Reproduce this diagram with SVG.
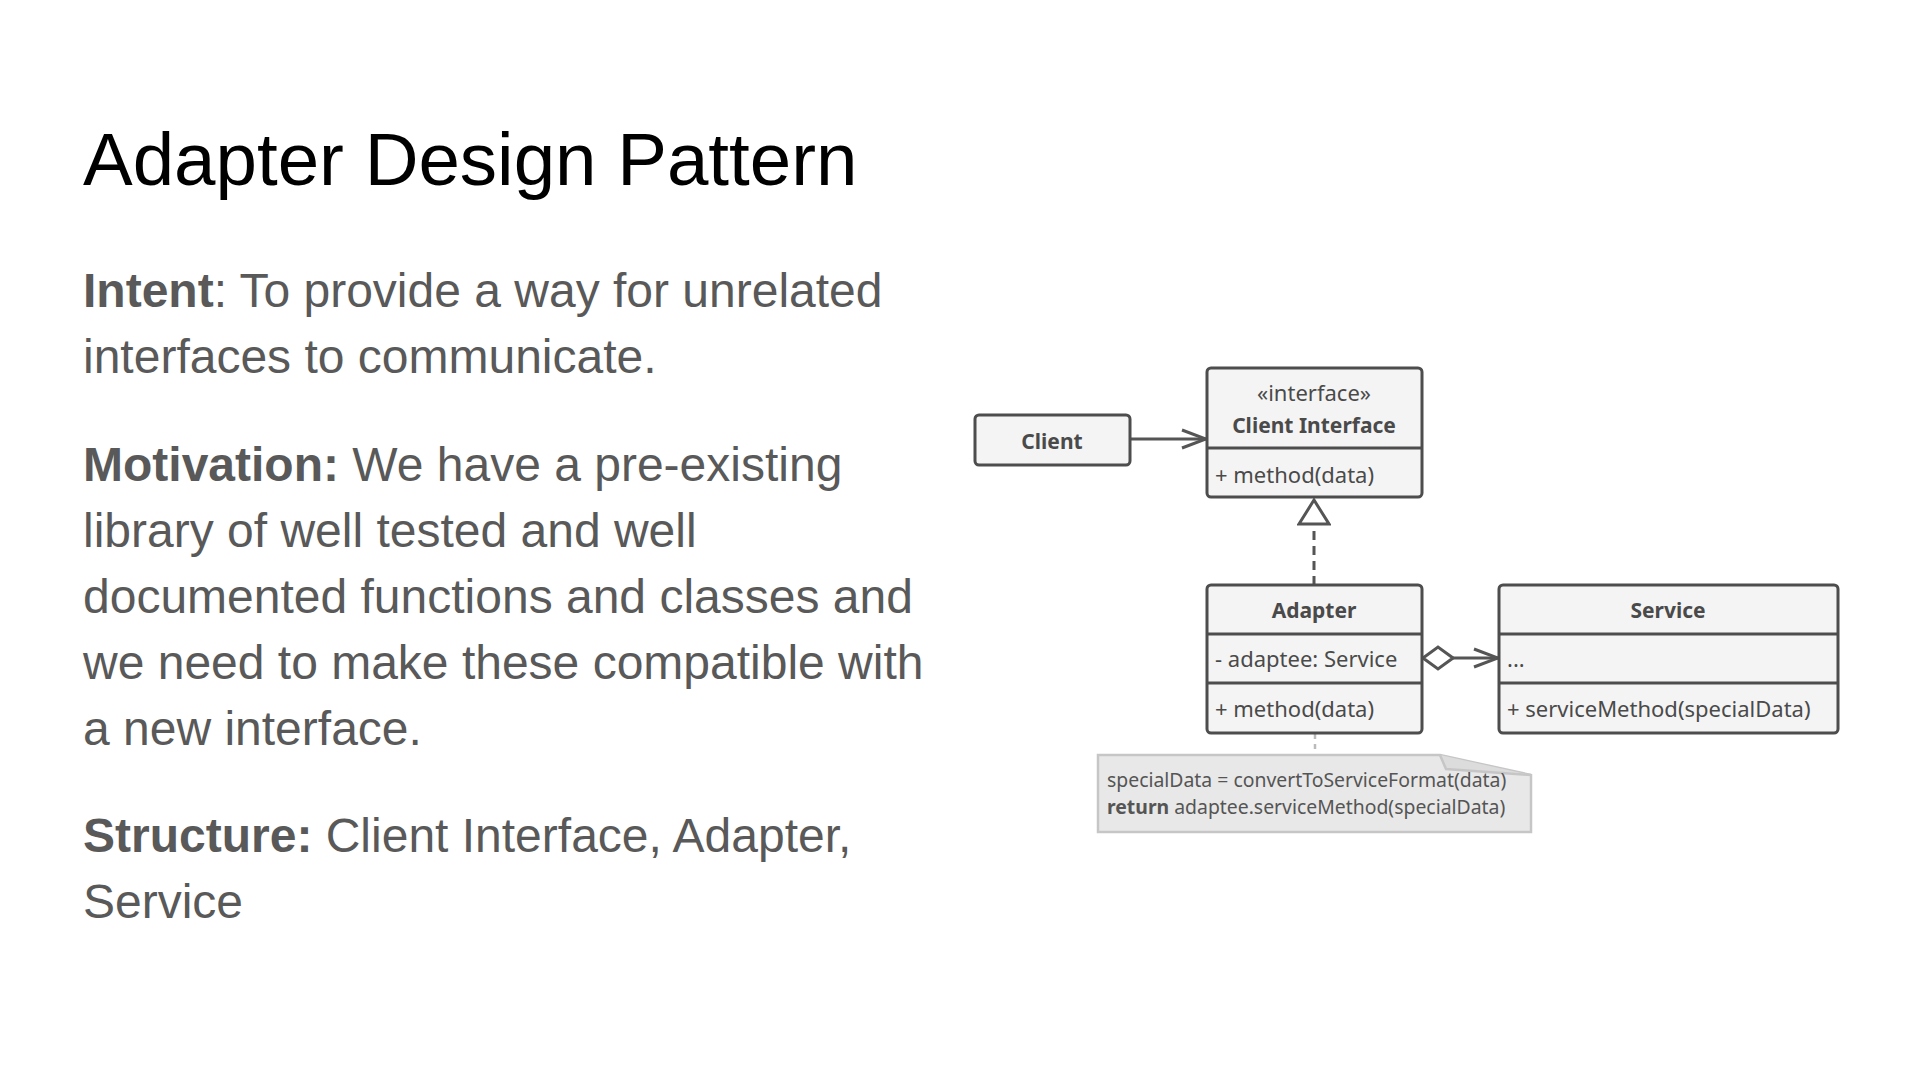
<svg xmlns="http://www.w3.org/2000/svg" width="1920" height="1080" viewBox="0 0 1920 1080">
  <style>
    .title { font-family: "Liberation Sans", Arial, sans-serif; font-size: 74.5px; fill: #000000; }
    .body { font-family: "Liberation Sans", Arial, sans-serif; font-size: 48px; fill: #595959; }
    .b { font-weight: bold; }
    .box { fill: #f4f4f4; stroke: #4d4d4d; stroke-width: 3; }
    .div { stroke: #4d4d4d; stroke-width: 3; }
    .uml { font-family: "Noto Sans", "Open Sans", sans-serif; font-size: 22px; fill: #4a4a4a; }
    .name { font-weight: bold; font-size: 21px; text-anchor: middle; }
    .mid { text-anchor: middle; }
    .line { stroke: #555555; stroke-width: 3; fill: none; }
    .note { fill: #e8e8e8; stroke: #c6c6c6; stroke-width: 2.5; }
    .notetext { font-family: "Noto Sans", "Open Sans", sans-serif; font-size: 19.4px; fill: #555555; }
  </style>
  <defs>
    <marker id="open" viewBox="0 0 28 22" refX="26" refY="11" markerWidth="28" markerHeight="22" markerUnits="userSpaceOnUse" orient="auto">
      <path d="M2,2 L26,11 L2,20" fill="none" stroke="#555555" stroke-width="3"/>
    </marker>
    <marker id="realize" viewBox="0 0 28 34" refX="26" refY="17" markerWidth="28" markerHeight="34" markerUnits="userSpaceOnUse" orient="auto">
      <path d="M2,2 L26,17 L2,32 Z" fill="#ffffff" stroke="#555555" stroke-width="3"/>
    </marker>
    <marker id="diamond" viewBox="0 0 34 26" refX="2" refY="13" markerWidth="34" markerHeight="26" markerUnits="userSpaceOnUse" orient="auto">
      <path d="M2,13 L17,2 L32,13 L17,24 Z" fill="#ffffff" stroke="#555555" stroke-width="3"/>
    </marker>
  </defs>

  <rect width="1920" height="1080" fill="#ffffff"/>

  <!-- heading and description -->
  <text class="title" x="83" y="185">Adapter Design Pattern</text>
  <text class="body" x="83" y="307"><tspan class="b">Intent</tspan>: To provide a way for unrelated</text>
  <text class="body" x="83" y="373">interfaces to communicate.</text>
  <text class="body" x="83" y="481"><tspan class="b">Motivation:</tspan> We have a pre-existing</text>
  <text class="body" x="83" y="547">library of well tested and well</text>
  <text class="body" x="83" y="613">documented functions and classes and</text>
  <text class="body" x="83" y="679">we need to make these compatible with</text>
  <text class="body" x="83" y="745">a new interface.</text>
  <text class="body" x="83" y="852"><tspan class="b">Structure:</tspan> Client Interface, Adapter,</text>
  <text class="body" x="83" y="918">Service</text>

  <!-- connectors -->
  <g id="connectors">
    <line class="line" x1="1130" y1="439" x2="1206" y2="439" marker-end="url(#open)"/>
    <line class="line" x1="1314" y1="585" x2="1314" y2="500" stroke-dasharray="9,6" marker-end="url(#realize)"/>
    <line class="line" x1="1423" y1="658" x2="1498" y2="658" marker-start="url(#diamond)" marker-end="url(#open)"/>
    <line x1="1315" y1="734" x2="1315" y2="755" stroke="#bbbbbb" stroke-width="2.5" stroke-dasharray="5,5"/>
  </g>

  <g id="client">
    <rect class="box" x="975" y="415" width="155" height="50" rx="4"/>
    <text class="uml name" x="1052" y="449">Client</text>
  </g>

  <g id="client-interface">
    <rect class="box" x="1207" y="368" width="215" height="129" rx="4"/>
    <line class="div" x1="1207" y1="448" x2="1422" y2="448"/>
    <text class="uml mid" x="1314" y="401">«interface»</text>
    <text class="uml name" x="1314" y="433">Client Interface</text>
    <text class="uml" x="1215" y="483">+ method(data)</text>
  </g>

  <g id="adapter">
    <rect class="box" x="1207" y="585" width="215" height="148" rx="4"/>
    <line class="div" x1="1207" y1="634" x2="1422" y2="634"/>
    <line class="div" x1="1207" y1="683" x2="1422" y2="683"/>
    <text class="uml name" x="1314" y="618">Adapter</text>
    <text class="uml" x="1215" y="667">- adaptee: Service</text>
    <text class="uml" x="1215" y="717">+ method(data)</text>
  </g>

  <g id="service">
    <rect class="box" x="1499" y="585" width="339" height="148" rx="4"/>
    <line class="div" x1="1499" y1="634" x2="1838" y2="634"/>
    <line class="div" x1="1499" y1="683" x2="1838" y2="683"/>
    <text class="uml name" x="1668" y="618">Service</text>
    <text class="uml" x="1507" y="667">...</text>
    <text class="uml" x="1507" y="717">+ serviceMethod(specialData)</text>
  </g>

  <g id="note">
    <path class="note" d="M1098,755 L1440,755 L1531,775 L1531,832 L1098,832 Z"/>
    <path d="M1440,755 L1446,769 L1531,775" fill="#dcdcdc" stroke="#c6c6c6" stroke-width="2.5"/>
    <text class="notetext" x="1107" y="787">specialData = convertToServiceFormat(data)</text>
    <text class="notetext" x="1107" y="814"><tspan font-weight="bold">return</tspan> adaptee.serviceMethod(specialData)</text>
  </g>
</svg>
